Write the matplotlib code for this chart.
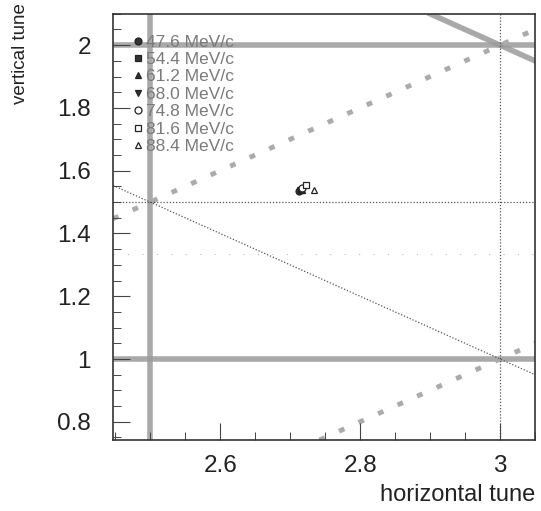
import matplotlib
matplotlib.use("Agg")
import matplotlib.pyplot as plt
from matplotlib.ticker import MultipleLocator

plt.rcParams["font.family"] = ["Liberation Sans", "DejaVu Sans"]

# --- tune points per beam momentum ---
momenta = ["47.6", "54.4", "61.2", "68.0", "74.8", "81.6", "88.4"]
qx = [2.713, 2.716, 2.717, 2.714, 2.717, 2.723, 2.734]
qy = [1.534, 1.537, 1.540, 1.537, 1.546, 1.556, 1.537]
markers = ["o", "s", "^", "v", "o", "s", "^"]
filled = [True, True, True, True, False, False, False]

# --- resonance lines: a*Qx + b*Qy = c ---
thick_lines = [(0, 1, 2), (0, 1, 1), (1, 0, 2.5), (1, 1, 5)]
dotted_thick = [(1, -1, 1), (1, -1, 2)]
thin_lines = [(1, 0, 3), (0, 1, 1.5), (1, 1, 4)]
faint_lines = [(0, 1, 4 / 3)]

fig = plt.figure(figsize=(5.41, 5.11), dpi=100)
ax = fig.add_axes([0.209, 0.139, 0.780, 0.834])
ax.set_xlim(2.447, 3.05)
ax.set_ylim(0.742, 2.10)


def draw(ax, a, b, c, **kw):
    if b == 0:
        ax.axvline(c / a, **kw)
    else:
        ax.axline((0, c / b), slope=-a / b, **kw)


for a, b, c in thick_lines:
    draw(ax, a, b, c, color="#9a9a9a", lw=4.0, alpha=0.85, zorder=1)
for a, b, c in dotted_thick:
    draw(ax, a, b, c, color="#ababab", lw=3.5, ls=(0, (1.2, 3.2)), zorder=1)
for a, b, c in thin_lines:
    draw(ax, a, b, c, color="#555555", lw=0.9, ls=(0, (1, 1.5)), zorder=1)
for a, b, c in faint_lines:
    draw(ax, a, b, c, color="#bbbbbb", lw=0.8, ls=(0, (1, 12)), zorder=1)

for i in range(len(momenta)):
    fc = "#333333" if filled[i] else "white"
    ax.plot(qx[i], qy[i], ls="none", marker=markers[i], ms=5,
            mfc=fc, mec="#222222", mew=0.9, zorder=3,
            label=momenta[i] + " MeV/c")

leg = ax.legend(loc="upper left", frameon=False, fontsize=12.5,
                handlelength=0.6, handletextpad=0.15, labelspacing=0.13,
                borderaxespad=0.3, bbox_to_anchor=(0.018, 0.98))
for t in leg.get_texts():
    t.set_color("#7a7a7a")

ax.xaxis.set_minor_locator(MultipleLocator(0.05))
ax.yaxis.set_minor_locator(MultipleLocator(0.05))
ax.set_xticks([2.6, 2.8, 3.0])
ax.set_xticklabels(["2.6", "2.8", "3"])
ax.set_yticks([0.8, 1.0, 1.2, 1.4, 1.6, 1.8, 2.0])
ax.set_yticklabels(["0.8", "1", "1.2", "1.4", "1.6", "1.8", "2"])
ax.tick_params(which="major", direction="in", length=12, width=0.8,
               colors="#444444", labelcolor="#222222", labelsize=17.5)
ax.tick_params(axis="y", which="major", pad=16)
ax.tick_params(axis="x", which="major", pad=11)
ax.tick_params(which="minor", direction="in", length=6, width=0.7,
               colors="#444444")
for s in ax.spines.values():
    s.set_color("#333333")
    s.set_linewidth(1.2)

ax.set_xlabel("horizontal tune", fontsize=17, color="#222222", loc="right",
              labelpad=5)
ax.set_ylabel("vertical tune", fontsize=13.5, color="#222222", loc="top")
ax.yaxis.set_label_coords(-0.2, 1.025)

fig.savefig("out.png", dpi=100)
